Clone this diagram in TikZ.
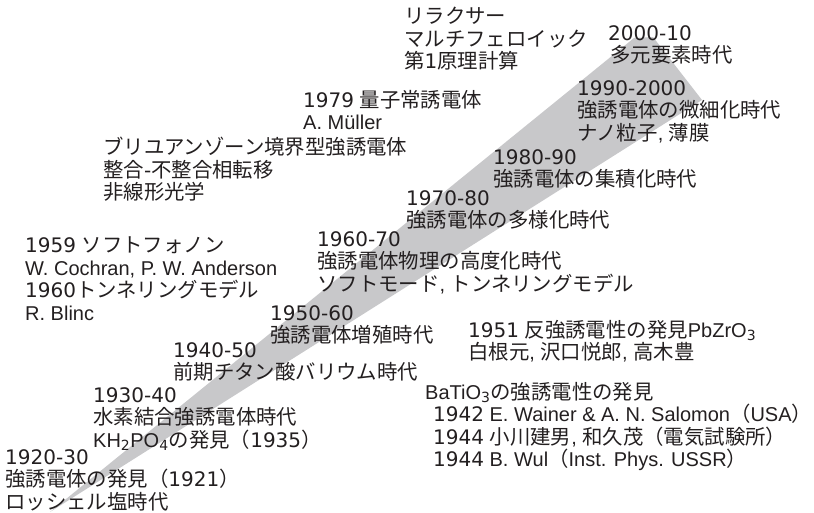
\documentclass[tikz,border=0pt]{standalone}
\usepackage{fontspec}
\setmainfont{Liberation Sans}
\newfontfamily\jfont[Scale=1.02]{Noto Sans CJK JP}
\newfontfamily\lfont{Liberation Sans}
\newfontfamily\dfont{DejaVu Sans}
\XeTeXinterchartokenstate=1
\newXeTeXintercharclass\cjkclass
\newXeTeXintercharclass\digclass
\count255="3000
\loop\XeTeXcharclass\count255=\cjkclass\advance\count255 by 1\ifnum\count255<"3100\repeat
\count255="4E00
\loop\XeTeXcharclass\count255=\cjkclass\advance\count255 by 1\ifnum\count255<"A000\repeat
\count255="FF00
\loop\XeTeXcharclass\count255=\cjkclass\advance\count255 by 1\ifnum\count255<"FF60\repeat
\count255=`0
\loop\XeTeXcharclass\count255=\digclass\advance\count255 by 1\ifnum\count255<58\repeat
\XeTeXcharclass`-=\digclass
\XeTeXinterchartoks 0 \cjkclass = {\jfont}
\XeTeXinterchartoks 4095 \cjkclass = {\jfont}
\XeTeXinterchartoks \digclass \cjkclass = {\jfont}
\XeTeXinterchartoks \cjkclass 0 = {\lfont}
\XeTeXinterchartoks \cjkclass 4095 = {\lfont}
\XeTeXinterchartoks \digclass 0 = {\lfont}
\XeTeXinterchartoks \digclass 4095 = {\lfont}
\XeTeXinterchartoks 0 \digclass = {\dfont}
\XeTeXinterchartoks 4095 \digclass = {\dfont}
\XeTeXinterchartoks \cjkclass \digclass = {\dfont}
\definecolor{ink}{RGB}{35,31,32}
\definecolor{band}{RGB}{200,200,202}
\newcommand{\sbs}[1]{\textsubscript{#1}}
\begin{document}
\begin{tikzpicture}[x=1pt,y=-1pt,
  lbl/.style={anchor=north west,align=left,inner sep=0pt,text=ink,
    font=\fontsize{20pt}{22.5pt}\selectfont}]
\useasboundingbox (0,0) rectangle (814,512);
\fill[band] (50,512) coordinate (tip) -- (634,38) coordinate (ul)
  -- (653,37) coordinate (ur) -- (702,100) coordinate (rc) -- cycle;
\node[lbl] (n2000) at (608,25) {2000-10\\\hspace*{2pt}多元要素時代};
\node[lbl] (nrel) at (404,7) {リラクサー\\マルチフェロイック\\第1原理計算};
\node[lbl] (n1990) at (577,80) {1990-2000\\強誘電体の微細化時代\\ナノ粒子, 薄膜};
\node[lbl] (n1979) at (303,90) {1979 量子常誘電体\\A. Müller};
\node[lbl] (nbz) at (103,137) {ブリユアンゾーン境界型強誘電体\\整合-不整合相転移\\非線形光学};
\node[lbl] (n1980) at (493,149) {1980-90\\強誘電体の集積化時代};
\node[lbl] (n1970) at (406,190) {1970-80\\強誘電体の多様化時代};
\node[lbl] (n1960) at (317,231) {1960-70\\強誘電体物理の高度化時代\\ソフトモード, トンネリングモデル};
\node[lbl] (n1959) at (25,237) {1959 ソフトフォノン\\W. Cochran, P. W. Anderson\\1960トンネリングモデル\\R. Blinc};
\node[lbl] (n1950) at (270,305) {1950-60\\強誘電体増殖時代};
\node[lbl] (n1940) at (173,342) {1940-50\\前期チタン酸バリウム時代};
\node[lbl] (n1930) at (93,387) {1930-40\\水素結合強誘電体時代\\KH\sbs{2}PO\sbs{4}の発見（1935）};
\node[lbl] (n1920) at (5,449) {1920-30\\強誘電体の発見（1921）\\ロッシェル塩時代};
\node[lbl] (n1951) at (468,320) {1951 反強誘電性の発見PbZrO\sbs{3}\\白根元, 沢口悦郎, 高木豊};
\node[lbl] (nbat) at (425,382) {BaTiO\sbs{3}の強誘電性の発見};
\node[lbl] (n1942) at (433,404) {1942 E. Wainer \& A. N. Salomon（USA）\\1944 小川建男, 和久茂（電気試験所）\\1944 B. Wul（Inst. Phys. USSR）};
\end{tikzpicture}
\end{document}
